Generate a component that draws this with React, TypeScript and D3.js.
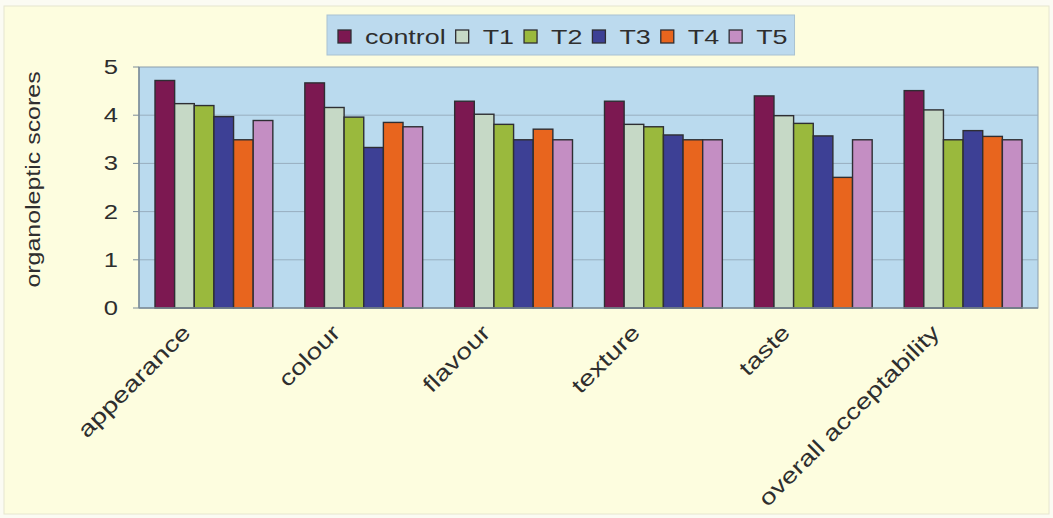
import React from "react";
import * as d3 from "d3";

// Sensory attributes on the x axis
const categories = [
  "appearance",
  "colour",
  "flavour",
  "texture",
  "taste",
  "overall acceptability",
];

// Treatment names, in legend order
const seriesNames = ["control", "T1", "T2", "T3", "T4", "T5"];

// Mean organoleptic scores per treatment (one value per attribute)
const control = [4.72, 4.67, 4.29, 4.29, 4.4, 4.51];
const t1 = [4.24, 4.16, 4.02, 3.81, 3.99, 4.11];
const t2 = [4.2, 3.96, 3.81, 3.76, 3.83, 3.49];
const t3 = [3.97, 3.33, 3.49, 3.59, 3.57, 3.68];
const t4 = [3.49, 3.85, 3.71, 3.49, 2.71, 3.56];
const t5 = [3.89, 3.76, 3.49, 3.49, 3.49, 3.49];

const yTicks = [0, 1, 2, 3, 4, 5];
const yTitle = "organoleptic scores";

const seriesValues = [control, t1, t2, t3, t4, t5];
const seriesColors = ["#7c1851", "#c6d9c6", "#9ab93d", "#3d4095", "#e8651e", "#c48ec3"];

const W = 1053;
const H = 518;
const plot = { left: 139, right: 1038, top: 67, bottom: 308 };
const FONT = "'Liberation Sans', Arial, sans-serif";
// the chart font is a wide sans; emulate it by stretching Arial metrics
const WIDE = 1.28;
const INK = "#2e2e2e";

function textWidth(s: string, size: number): number {
  const ctx = document.createElement("canvas").getContext("2d");
  if (!ctx) return s.length * size * 0.55 * WIDE;
  ctx.font = `${size}px ${FONT}`;
  return ctx.measureText(s).width * WIDE;
}

export default function App() {
  const x0 = d3.scaleBand<string>().domain(categories).range([plot.left, plot.right]);
  const bw = x0.bandwidth();
  const x1 = d3.scaleBand<string>().domain(seriesNames).range([16, bw - 16]);
  const y = d3.scaleLinear().domain([0, 5]).range([plot.bottom, plot.top]);

  // Legend layout
  const legendFs = 21;
  const mk = 13;
  const legendLeft = 327;
  const itemGap = 10;
  let cursor = legendLeft + 11;
  const legendItems = seriesNames.map((name, i) => {
    const item = { name, x: cursor, color: seriesColors[i] };
    cursor += mk + 14 + textWidth(name, legendFs) + itemGap;
    return item;
  });
  const legendRight = cursor - itemGap + 7;

  return (
    <svg
      width={W}
      height={H}
      style={{ position: "absolute", left: 0, top: 0, display: "block" }}
      fontFamily={FONT}
    >
      <rect x={0} y={0} width={W} height={H} fill="#fbfbf3" />
      <rect x={4} y={6} width={W - 8} height={H - 10} fill="#fdfddf" stroke="#e6e6cf" strokeWidth={1} />

      {/* plot area */}
      <rect
        x={plot.left}
        y={plot.top}
        width={plot.right - plot.left}
        height={plot.bottom - plot.top}
        fill="#badaee"
        stroke="#8c9eac"
        strokeWidth={1}
      />
      {yTicks.slice(1, -1).map((t) => (
        <line
          key={t}
          x1={plot.left}
          x2={plot.right}
          y1={y(t)}
          y2={y(t)}
          stroke="#98aebf"
          strokeWidth={1}
        />
      ))}

      {/* bars */}
      {categories.map((c, ci) => (
        <g key={c} transform={`translate(${x0(c)},0)`}>
          {seriesNames.map((s, si) => {
            const v = seriesValues[si][ci];
            return (
              <rect
                key={s}
                x={x1(s)}
                y={y(v)}
                width={x1.bandwidth()}
                height={y(0) - y(v)}
                fill={seriesColors[si]}
                stroke="#2e2e33"
                strokeWidth={1.4}
              />
            );
          })}
        </g>
      ))}

      {/* axes */}
      <line x1={plot.left} x2={plot.left} y1={plot.top} y2={plot.bottom} stroke="#7d8c98" strokeWidth={1.5} />
      <line x1={plot.left} x2={plot.right} y1={plot.bottom} y2={plot.bottom} stroke="#7d8c98" strokeWidth={1.5} />
      {yTicks.map((t) => (
        <g key={t}>
          <line x1={plot.left - 6} x2={plot.left} y1={y(t)} y2={y(t)} stroke="#7d8c98" strokeWidth={1} />
          <text
            transform={`translate(118,${y(t)}) scale(${WIDE},1)`}
            textAnchor="end"
            dominantBaseline="central"
            fontSize={20}
            fill={INK}
          >
            {t}
          </text>
        </g>
      ))}

      <text
        transform={`translate(40,${(plot.top + plot.bottom) / 2 - 8}) rotate(-90) scale(${WIDE},1)`}
        textAnchor="middle"
        fontSize={19.5}
        fill={INK}
      >
        {yTitle}
      </text>

      {categories.map((c) => {
        const cx = (x0(c) ?? 0) + bw / 2;
        return (
          <text
            key={c}
            transform={`translate(${cx - 22},${334}) rotate(-45) scale(${WIDE},1)`}
            textAnchor="end"
            fontSize={22}
            fill={INK}
          >
            {c}
          </text>
        );
      })}

      {/* legend */}
      <rect
        x={legendLeft}
        y={15}
        width={legendRight - legendLeft}
        height={40}
        fill="#bcdaee"
        stroke="#a9c2d2"
        strokeWidth={1}
      />
      {legendItems.map((it) => (
        <g key={it.name}>
          <rect x={it.x} y={30} width={mk} height={mk} fill={it.color} stroke="#2e2e33" strokeWidth={1.3} />
          <text
            transform={`translate(${it.x + mk + 14},36.5) scale(${WIDE},1)`}
            dominantBaseline="central"
            fontSize={legendFs}
            fill={INK}
          >
            {it.name}
          </text>
        </g>
      ))}
    </svg>
  );
}
